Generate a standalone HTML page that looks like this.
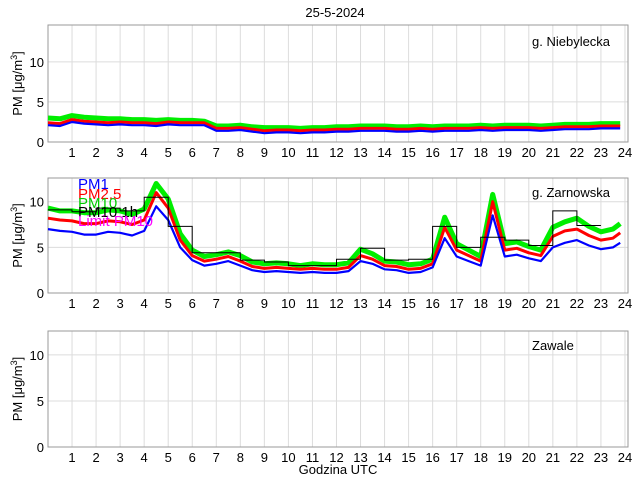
<!DOCTYPE html>
<html><head><meta charset="utf-8"><style>
body{margin:0;background:#fff;}
svg{display:block;font-family:"Liberation Sans",sans-serif;}
</style></head><body>
<svg id="c" width="640" height="480"></svg>
<script>
const hoursHalf=[0,0.5,1,1.5,2,2.5,3,3.5,4,4.5,5,5.5,6,6.5,7,7.5,8,8.5,9,9.5,10,10.5,11,11.5,12,12.5,13,13.5,14,14.5,15,15.5,16,16.5,17,17.5,18,18.5,19,19.5,20,20.5,21,21.5,22,22.5,23,23.5,23.8];
const z_pm1=[7.0,6.8,6.7,6.4,6.4,6.7,6.6,6.3,6.8,9.5,8.0,5.0,3.6,3.0,3.2,3.5,3.0,2.5,2.3,2.4,2.3,2.2,2.3,2.2,2.2,2.4,3.5,3.2,2.6,2.5,2.2,2.3,2.8,6.0,4.0,3.5,3.0,8.5,4.0,4.2,3.8,3.5,5.0,5.5,5.8,5.2,4.8,5.0,5.5];
const z_pm25=[8.2,8.0,7.9,7.6,7.6,7.9,7.8,7.5,8.0,11.0,9.3,5.8,4.1,3.5,3.7,4.0,3.5,2.9,2.7,2.8,2.7,2.6,2.7,2.6,2.6,2.8,4.1,3.7,3.0,2.9,2.6,2.7,3.2,7.2,4.7,4.1,3.5,10.0,4.7,4.9,4.4,4.1,6.2,6.8,7.0,6.3,5.8,6.0,6.6];
const z_pm10=[9.3,9.0,9.0,8.8,8.8,9.1,9.0,8.6,9.2,12.0,10.3,6.5,4.7,4.0,4.2,4.5,4.1,3.4,3.2,3.3,3.2,3.0,3.2,3.1,3.1,3.3,4.8,4.3,3.5,3.4,3.1,3.2,3.7,8.3,5.4,4.7,4.0,10.8,5.4,5.6,5.1,4.7,7.2,7.8,8.2,7.3,6.7,7.0,7.6];
const z_pm10h=[9.1,8.9,9.3,9.0,10.5,7.3,4.4,4.4,3.6,3.4,3.0,3.0,3.7,4.9,3.6,3.7,7.3,5.0,6.1,5.8,5.2,9.0,7.4];
const n_pm1=[2.1,2.0,2.5,2.3,2.2,2.1,2.2,2.1,2.1,2.0,2.2,2.1,2.1,2.1,1.4,1.4,1.5,1.3,1.1,1.2,1.2,1.1,1.2,1.2,1.3,1.3,1.4,1.4,1.4,1.3,1.3,1.4,1.3,1.4,1.4,1.4,1.5,1.4,1.5,1.5,1.5,1.4,1.5,1.6,1.6,1.6,1.7,1.7,1.7];
const n_pm25=[2.4,2.3,2.8,2.6,2.5,2.4,2.5,2.4,2.4,2.3,2.5,2.4,2.4,2.4,1.7,1.7,1.8,1.6,1.4,1.5,1.5,1.4,1.5,1.5,1.6,1.6,1.7,1.7,1.7,1.6,1.6,1.7,1.6,1.7,1.7,1.7,1.8,1.7,1.8,1.8,1.8,1.7,1.8,1.9,1.9,1.9,2.0,2.0,2.0];
const n_pm10=[3.0,2.9,3.3,3.1,3.0,2.9,2.9,2.8,2.8,2.7,2.8,2.7,2.7,2.6,2.0,2.0,2.1,1.9,1.8,1.8,1.8,1.7,1.8,1.8,1.9,1.9,2.0,2.0,2.0,1.9,1.9,2.0,1.9,2.0,2.0,2.0,2.1,2.0,2.1,2.1,2.1,2.0,2.1,2.2,2.2,2.2,2.3,2.3,2.3];
const xTicks=[1,2,3,4,5,6,7,8,9,10,11,12,13,14,15,16,17,18,19,20,21,22,23,24];
const yTicks=[0,5,10];
const NS="http://www.w3.org/2000/svg";
const svg=document.getElementById('c');
const X0=48,X1=628;
function xs(h){return 48+h*24.04;}
function mk(tag,attrs,parent){const e=document.createElementNS(NS,tag);for(const k in attrs)e.setAttribute(k,attrs[k]);(parent||svg).appendChild(e);return e;}
const panels=[
 {top:25,bot:142,ymax:14.6,label:"g. Niebylecka",lx:532,ly:46,s:[n_pm10,n_pm25,n_pm1],name:"niebylecka"},
 {top:178,bot:293,ymax:12.6,label:"g. Zarnowska",lx:532,ly:197,s:[z_pm10,z_pm25,z_pm1],step:z_pm10h,name:"zarnowska"},
 {top:331,bot:447,ymax:12.6,label:"Zawale",lx:532,ly:350,s:null,name:"zawale"}
];
const cols=["#00ee00","#ff0000","#0000ff"];
const widths=[5,3,2.2];
panels.forEach((p,i)=>{
 const g=mk('g',{});
 
 
 const ys=v=>p.bot-v/p.ymax*(p.bot-p.top);
 xTicks.forEach(t=>{const l=mk('line',{x1:xs(t),x2:xs(t),y1:p.top,y2:p.bot,stroke:'#dcdcdc','stroke-width':1},g);
  
  const tx=mk('text',{x:xs(t),y:p.bot+15,'font-size':13,'text-anchor':'middle'},g);tx.textContent=t;
  });
 yTicks.forEach(t=>{const l=mk('line',{x1:X0,x2:X1,y1:ys(t),y2:ys(t),stroke:'#dcdcdc','stroke-width':1},g);
  
  const tx=mk('text',{x:X0-4,y:ys(t)+5,'font-size':13,'text-anchor':'end'},g);tx.textContent=t;
  });
 const fr=mk('rect',{x:X0,y:p.top,width:X1-X0,height:p.bot-p.top,fill:'none',stroke:'#999','stroke-width':1},g);
 
 if(p.s){p.s.forEach((arr,j)=>{const d=arr.map((v,k)=>(k?'L':'M')+xs(hoursHalf[k]).toFixed(1)+' '+ys(Math.min(v,p.ymax)).toFixed(1)).join('');
  const pl=mk('path',{d:d,fill:'none',stroke:cols[j],'stroke-width':widths[j],'stroke-linejoin':'round'},g);
  });}
 if(p.step){let d='';p.step.forEach((v,k)=>{d+=(k?'L':'M')+xs(k).toFixed(1)+' '+ys(v).toFixed(1)+'L'+xs(k+1).toFixed(1)+' '+ys(v).toFixed(1);});
  const pl=mk('path',{d:d,fill:'none',stroke:'#000','stroke-width':1},g);
  }
 const lb=mk('text',{x:p.lx,y:p.ly,'font-size':13},g);lb.textContent=p.label;
 
 const yl=mk('text',{transform:`translate(22,${(p.top+p.bot)/2}) rotate(-90)`,'font-size':13,'text-anchor':'middle'},g);
 yl.innerHTML='PM [μg/m<tspan dy="-5" font-size="9">3</tspan><tspan dy="5">]</tspan>';
 
});
const legend=[["PM1","#0000ff",189],["PM2.5","#ff0000",199],["PM10","#00cc00",208],["PM10 1h","#000",217],["Limit PM10","#ff00ff",226]];
legend.forEach(l=>{const t=mk('text',{x:78,y:l[2],'font-size':15,fill:l[1]});t.textContent=l[0];
 });
const tt=mk('text',{x:335,y:17,'font-size':13,'text-anchor':'middle'});tt.textContent='25-5-2024';

const xt=mk('text',{x:338,y:474,'font-size':13,'text-anchor':'middle'});xt.textContent='Godzina UTC';

</script>
</body></html>
